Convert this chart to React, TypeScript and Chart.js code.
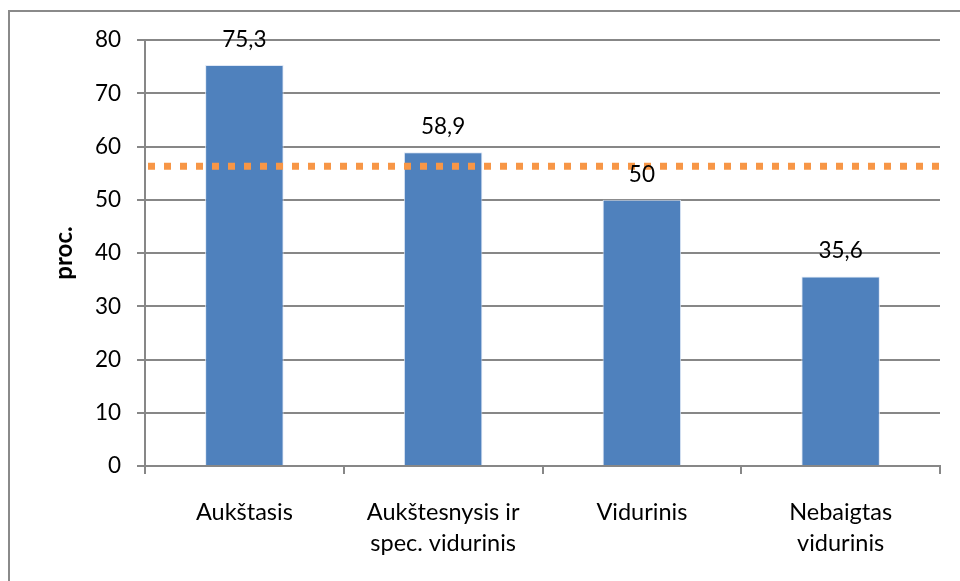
import React, { useEffect, useRef } from "react";
import { Chart, registerables } from "chart.js";

Chart.register(...registerables);

const categories: (string | string[])[] = [
  "Aukštasis",
  ["Aukštesnysis ir", "spec. vidurinis"],
  "Vidurinis",
  ["Nebaigtas", "vidurinis"],
];
const values: number[] = [75.3, 58.9, 50, 35.6];
const valueLabels: string[] = ["75,3", "58,9", "50", "35,6"];
const averageValue = 56.3;
const yAxisTitle = "proc.";
const yMin = 0;
const yMax = 80;
const yStep = 10;

const FONT = "Lato, 'Open Sans', sans-serif";
const GRID = "#878787";

const avgLinePlugin = {
  id: "avgLine",
  afterDatasetsDraw(chart: any) {
    const { ctx, chartArea, scales } = chart;
    const y = scales.y.getPixelForValue(averageValue);
    ctx.save();
    ctx.strokeStyle = "#F79646";
    ctx.lineWidth = 7;
    ctx.setLineDash([7, 9]);
    ctx.beginPath();
    ctx.moveTo(chartArea.left + 3, y);
    ctx.lineTo(chartArea.right, y);
    ctx.stroke();
    ctx.restore();
  },
};

const valueLabelPlugin = {
  id: "valueLabels",
  afterDraw(chart: any) {
    const { ctx } = chart;
    const meta = chart.getDatasetMeta(0);
    ctx.save();
    ctx.font = `22.5px ${FONT}`;
    ctx.fillStyle = "#000";
    ctx.textAlign = "center";
    ctx.textBaseline = "alphabetic";
    meta.data.forEach((bar: any, i: number) => {
      ctx.fillText(valueLabels[i], bar.x, bar.y - 18);
    });
    ctx.restore();
  },
};

export default function App() {
  const canvasRef = useRef<HTMLCanvasElement | null>(null);

  useEffect(() => {
    if (!canvasRef.current) return;
    const chart = new Chart(canvasRef.current, {
      type: "bar",
      data: {
        labels: categories,
        datasets: [
          {
            data: values,
            backgroundColor: "#4F81BD",
            borderColor: "rgba(220,230,245,0.9)",
            borderWidth: 1,
            barPercentage: 0.395,
            categoryPercentage: 1,
          },
        ],
      },
      options: {
        animation: false,
        responsive: false,
        maintainAspectRatio: false,
        layout: { padding: { left: 0, top: 40, right: 20, bottom: 0 } },
        plugins: {
          legend: { display: false },
          tooltip: { enabled: false },
        },
        scales: {
          x: {
            grid: {
              display: true,
              drawOnChartArea: false,
              drawTicks: true,
              tickLength: 8,
              color: GRID,
              lineWidth: 2,
              offset: true,
            },
            border: { display: true, color: GRID, width: 2 },
            ticks: {
              color: "#000",
              font: { family: FONT, size: 23.5, lineHeight: 1.33 },
              padding: 23,
              maxRotation: 0,
              autoSkip: false,
            },
            afterFit: (s: any) => {
              s.height = 115;
            },
          },
          y: {
            min: yMin,
            max: yMax,
            grid: {
              color: GRID,
              lineWidth: 2,
              tickLength: 8,
              drawTicks: true,
            },
            border: { display: true, color: GRID, width: 2 },
            ticks: {
              stepSize: yStep,
              color: "#000",
              font: { family: FONT, size: 22.5 },
              padding: 16,
            },
            title: {
              display: true,
              text: yAxisTitle,
              color: "#000",
              font: { family: FONT, size: 24, weight: "bold", lineHeight: 1.2 },
              padding: { top: 50, bottom: 0 },
            },
            afterFit: (s: any) => {
              s.width = 145;
            },
          },
        },
      },
      plugins: [avgLinePlugin, valueLabelPlugin],
    });
    return () => chart.destroy();
  }, []);

  return (
    <div
      style={{
        position: "fixed",
        left: 0,
        top: 0,
        width: 960,
        height: 581,
        overflow: "hidden",
        background: "#fff",
      }}
    >
      <div
        style={{
          position: "absolute",
          left: 8,
          top: 10,
          width: 1200,
          height: 1200,
          border: "2px solid #8a8a8a",
          boxSizing: "border-box",
        }}
      />
      <canvas
        ref={canvasRef}
        width={960}
        height={581}
        style={{ position: "absolute", left: 0, top: 0, width: 960, height: 581 }}
      />
    </div>
  );
}
